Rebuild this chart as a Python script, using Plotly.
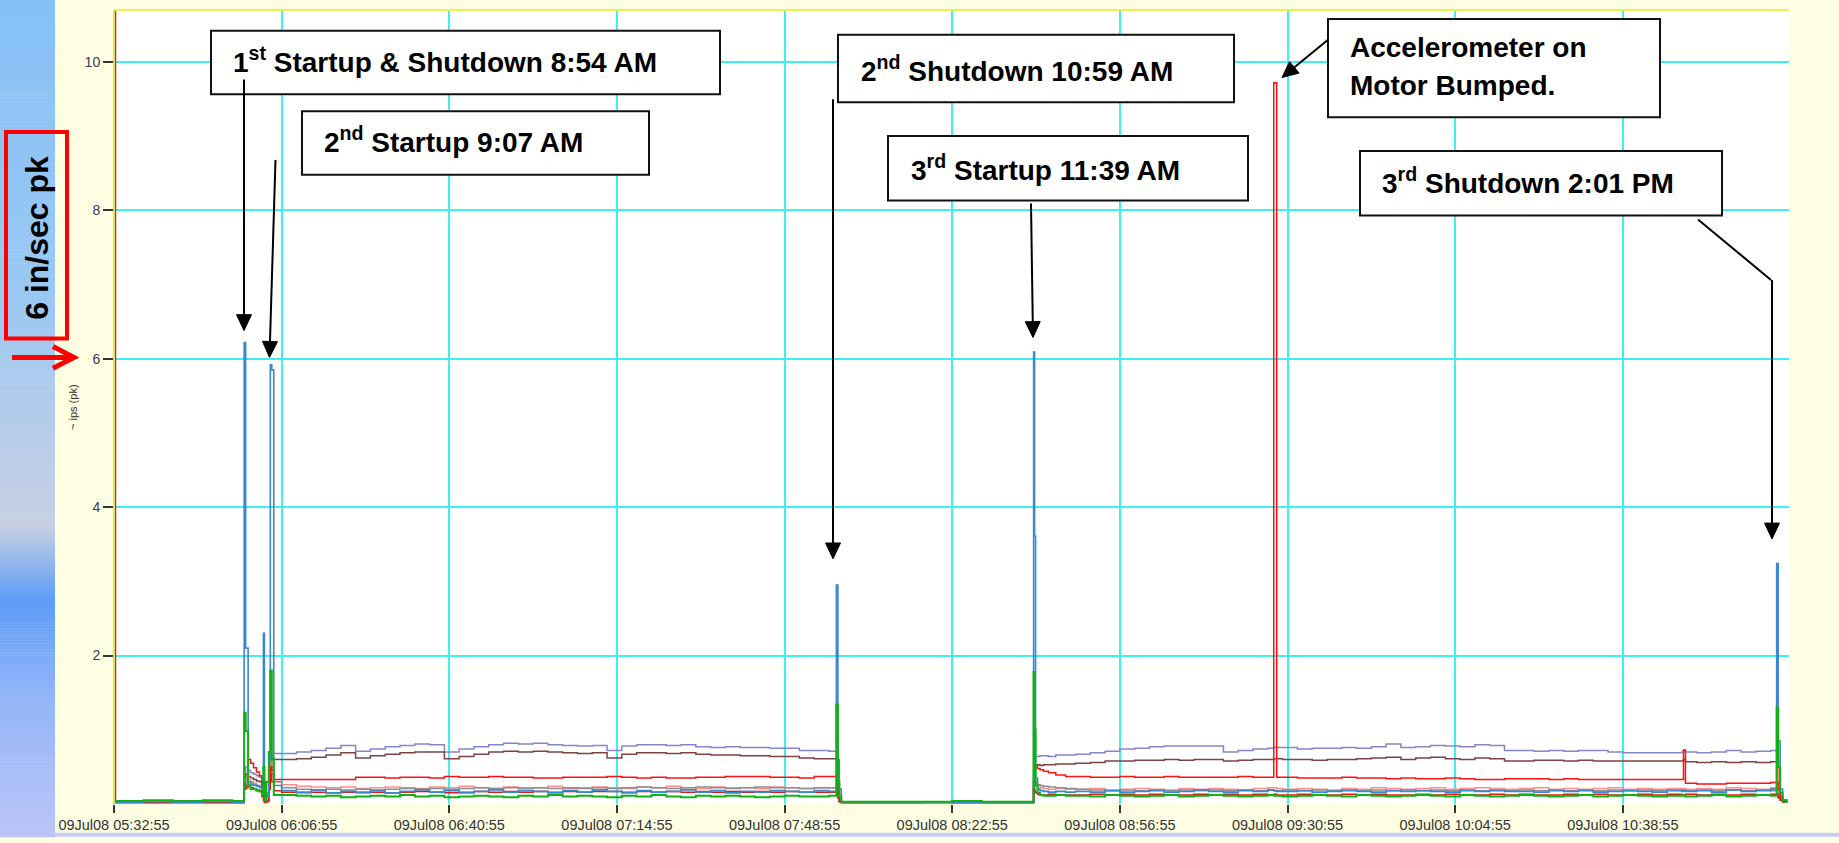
import math
import plotly.graph_objects as go
from datetime import datetime, timedelta

# ---------------------------------------------------------------- data
# sample times, minutes after 09Jul08 05:32:55
minutes = [
    0, 0.3, 6, 12, 18, 24, 26.2,
    26.4, 26.7, 27.2, 27.7, 28.3, 28.9, 29.5, 30.0, 30.3, 30.5, 30.9, 31.4, 31.7, 32.0, 32.4,
    34, 37, 40, 43, 46, 49, 52, 55, 58, 61, 64, 67, 70, 73, 76, 79, 82, 85, 88, 91,
    94, 97, 100, 103, 106, 109, 112, 115, 118, 121, 124, 127, 130, 133, 136, 139, 142, 145,
    146.5, 146.8, 147.1, 147.5,
    152, 158, 164, 170, 176, 182, 186.2,
    186.5, 186.7, 186.9, 187.3, 187.8, 188.5, 189.5, 191, 193,
    195, 198, 201, 204, 207, 210, 213, 216, 219, 222, 225, 228, 231, 234, 235.2, 235.8,
    237, 240, 243, 246, 249, 252, 255, 258, 261, 264, 267, 270, 273, 276, 279, 282,
    285, 288, 291, 294, 297, 300, 303, 306, 309, 312, 315, 318, 318.3, 318.7,
    321, 324, 327, 330, 333, 336,
    337.2, 337.5, 337.9, 338.4, 339.2,
]

purple = [
    0.03, 0.03, 0.03, 0.03, 0.03, 0.03, 0.03,
    0.30, 0.50, 0.45, 0.42, 0.40, 0.38, 0.36, 0.30, 0.20, 0.10, 0.15, 0.40, 0.70, 0.70, 0.68,
    0.68, 0.70, 0.72, 0.75, 0.79, 0.71, 0.74, 0.77, 0.79, 0.81, 0.80, 0.70, 0.74, 0.77, 0.80, 0.82, 0.81, 0.82, 0.80, 0.79,
    0.78, 0.79, 0.72, 0.78, 0.80, 0.80, 0.79, 0.80, 0.77, 0.76, 0.77, 0.76, 0.76, 0.75, 0.75, 0.72, 0.72, 0.71,
    0.70, 0.30, 0.06, 0.03,
    0.03, 0.03, 0.03, 0.03, 0.03, 0.03, 0.03,
    0.40, 0.64, 0.64, 0.64, 0.65, 0.65, 0.64, 0.66, 0.66,
    0.67, 0.69, 0.71, 0.74, 0.75, 0.77, 0.78, 0.78, 0.78, 0.78, 0.70, 0.72, 0.74, 0.75, 0.76, 0.76,
    0.76, 0.74, 0.75, 0.75, 0.76, 0.75, 0.77, 0.81, 0.76, 0.77, 0.79, 0.78, 0.77, 0.80, 0.79, 0.72,
    0.72, 0.71, 0.72, 0.71, 0.72, 0.72, 0.70, 0.69, 0.69, 0.69, 0.69, 0.70, 0.73, 0.70,
    0.69, 0.70, 0.72, 0.70, 0.71, 0.72,
    0.72, 0.40, 0.10, 0.04, 0.02,
]

brown = [
    0.02, 0.02, 0.02, 0.02, 0.02, 0.02, 0.02,
    0.25, 0.40, 0.37, 0.35, 0.33, 0.31, 0.30, 0.25, 0.15, 0.08, 0.12, 0.35, 0.65, 0.62, 0.60,
    0.60, 0.61, 0.63, 0.66, 0.69, 0.62, 0.65, 0.67, 0.69, 0.70, 0.70, 0.61, 0.64, 0.67, 0.70, 0.71, 0.70, 0.71, 0.70, 0.69,
    0.68, 0.69, 0.62, 0.67, 0.69, 0.69, 0.68, 0.69, 0.67, 0.66, 0.66, 0.65, 0.65, 0.64, 0.64, 0.62, 0.61, 0.61,
    0.60, 0.25, 0.05, 0.02,
    0.02, 0.02, 0.02, 0.02, 0.02, 0.02, 0.02,
    0.30, 0.52, 0.52, 0.53, 0.52, 0.53, 0.53, 0.54, 0.54,
    0.55, 0.56, 0.58, 0.58, 0.59, 0.59, 0.60, 0.59, 0.60, 0.60, 0.58, 0.59, 0.60, 0.60, 0.61, 0.61,
    0.60, 0.60, 0.59, 0.60, 0.60, 0.61, 0.62, 0.63, 0.60, 0.62, 0.63, 0.61, 0.60, 0.62, 0.61, 0.58,
    0.58, 0.59, 0.59, 0.58, 0.59, 0.58, 0.58, 0.58, 0.58, 0.58, 0.58, 0.58, 0.60, 0.57,
    0.56, 0.57, 0.56, 0.57, 0.56, 0.57,
    0.57, 0.30, 0.08, 0.03, 0.02,
]

red = [
    10.8, 0.03, 0.02, 0.03, 0.02, 0.02, 0.02,
    0.20, 0.25, 0.60, 0.55, 0.49, 0.43, 0.38, 0.20, 0.10, 0.04, 0.05, 0.30, 0.50, 0.45, 0.33,
    0.33, 0.33, 0.33, 0.33, 0.33, 0.36, 0.36, 0.35, 0.36, 0.36, 0.35, 0.37, 0.36, 0.36, 0.37, 0.36, 0.36, 0.35, 0.35, 0.36,
    0.36, 0.36, 0.37, 0.36, 0.35, 0.36, 0.35, 0.35, 0.36, 0.36, 0.37, 0.37, 0.37, 0.36, 0.36, 0.35, 0.37, 0.37,
    0.37, 0.15, 0.04, 0.02,
    0.02, 0.02, 0.03, 0.02, 0.02, 0.02, 0.02,
    0.20, 0.51, 0.50, 0.48, 0.46, 0.44, 0.42, 0.39, 0.37,
    0.37, 0.36, 0.36, 0.37, 0.36, 0.36, 0.37, 0.36, 0.36, 0.36, 0.36, 0.37, 0.36, 0.36, 9.72, 0.36,
    0.36, 0.35, 0.35, 0.35, 0.36, 0.35, 0.35, 0.34, 0.35, 0.34, 0.34, 0.35, 0.34, 0.33, 0.33, 0.34,
    0.34, 0.34, 0.33, 0.34, 0.33, 0.33, 0.33, 0.33, 0.33, 0.33, 0.33, 0.33, 0.72, 0.28,
    0.27, 0.27, 0.28, 0.28, 0.28, 0.29,
    0.29, 0.20, 0.10, 0.05, 0.03,
]

dark_red = [
    0.02, 0.02, 0.02, 0.02, 0.02, 0.02, 0.02,
    0.20, 0.22, 0.25, 0.22, 0.20, 0.19, 0.18, 0.10, 0.05, 0.02, 0.03, 0.20, 0.40, 0.30, 0.18,
    0.16, 0.15, 0.16, 0.15, 0.16, 0.15, 0.16, 0.15, 0.16, 0.17, 0.16, 0.15, 0.16, 0.17, 0.16, 0.17, 0.16, 0.17, 0.16, 0.17,
    0.16, 0.17, 0.17, 0.16, 0.17, 0.16, 0.17, 0.16, 0.17, 0.16, 0.17, 0.16, 0.17, 0.16, 0.17, 0.16, 0.16, 0.16,
    0.16, 0.08, 0.03, 0.02,
    0.02, 0.02, 0.02, 0.02, 0.02, 0.02, 0.02,
    0.20, 0.18, 0.15, 0.13, 0.12, 0.12, 0.13, 0.12, 0.12,
    0.12, 0.13, 0.12, 0.13, 0.12, 0.13, 0.12, 0.12, 0.13, 0.12, 0.13, 0.12, 0.13, 0.12, 0.13, 0.12,
    0.12, 0.13, 0.12, 0.12, 0.13, 0.12, 0.13, 0.12, 0.12, 0.13, 0.12, 0.13, 0.12, 0.12, 0.13, 0.12,
    0.13, 0.12, 0.12, 0.13, 0.12, 0.13, 0.12, 0.12, 0.13, 0.12, 0.13, 0.12, 0.12, 0.13,
    0.12, 0.13, 0.12, 0.13, 0.12, 0.13,
    0.13, 0.08, 0.05, 0.03, 0.02,
]

pink = [
    0.02, 0.02, 0.02, 0.02, 0.02, 0.02, 0.02,
    0.30, 0.30, 0.35, 0.30, 0.28, 0.25, 0.24, 0.20, 0.10, 0.05, 0.10, 0.50, 1.27, 0.50, 0.30,
    0.26, 0.24, 0.23, 0.22, 0.23, 0.21, 0.22, 0.23, 0.22, 0.21, 0.23, 0.22, 0.24, 0.22, 0.21, 0.23, 0.22, 0.22, 0.24, 0.21,
    0.22, 0.23, 0.22, 0.21, 0.23, 0.22, 0.24, 0.22, 0.21, 0.23, 0.22, 0.22, 0.21, 0.23, 0.22, 0.21, 0.22, 0.22,
    0.22, 0.10, 0.03, 0.02,
    0.02, 0.02, 0.02, 0.02, 0.02, 0.02, 0.02,
    0.30, 0.35, 0.30, 0.25, 0.22, 0.21, 0.20, 0.21, 0.20,
    0.20, 0.21, 0.19, 0.20, 0.21, 0.20, 0.19, 0.21, 0.20, 0.21, 0.20, 0.19, 0.21, 0.22, 0.22, 0.21,
    0.20, 0.21, 0.20, 0.19, 0.21, 0.20, 0.22, 0.21, 0.20, 0.21, 0.22, 0.20, 0.21, 0.22, 0.21, 0.20,
    0.21, 0.22, 0.20, 0.21, 0.20, 0.21, 0.22, 0.20, 0.21, 0.20, 0.21, 0.20, 0.21, 0.20,
    0.21, 0.20, 0.22, 0.21, 0.20, 0.22,
    1.10, 0.30, 0.10, 0.05, 0.02,
]

gray = [
    0.03, 0.03, 0.03, 0.03, 0.03, 0.03, 0.03,
    0.30, 0.35, 0.30, 0.28, 0.26, 0.25, 0.24, 0.20, 0.12, 0.06, 0.10, 0.30, 0.60, 0.40, 0.30,
    0.22, 0.20, 0.19, 0.20, 0.19, 0.20, 0.19, 0.20, 0.21, 0.20, 0.21, 0.20, 0.21, 0.22, 0.21, 0.22, 0.21, 0.22, 0.21, 0.22,
    0.21, 0.22, 0.21, 0.22, 0.23, 0.22, 0.21, 0.22, 0.23, 0.22, 0.21, 0.22, 0.23, 0.22, 0.22, 0.21, 0.22, 0.22,
    0.22, 0.10, 0.03, 0.02,
    0.03, 0.03, 0.03, 0.03, 0.03, 0.03, 0.03,
    0.30, 0.30, 0.28, 0.26, 0.25, 0.24, 0.23, 0.22, 0.21,
    0.20, 0.19, 0.18, 0.19, 0.18, 0.19, 0.18, 0.19, 0.18, 0.19, 0.18, 0.19, 0.18, 0.19, 0.18, 0.18,
    0.19, 0.18, 0.19, 0.18, 0.19, 0.18, 0.19, 0.18, 0.19, 0.18, 0.19, 0.18, 0.19, 0.18, 0.19, 0.18,
    0.19, 0.18, 0.19, 0.18, 0.19, 0.18, 0.19, 0.18, 0.19, 0.18, 0.19, 0.18, 0.19, 0.18,
    0.19, 0.18, 0.19, 0.18, 0.19, 0.18,
    0.18, 0.10, 0.05, 0.03, 0.02,
]

blue = [
    0.02, 0.02, 0.03, 0.02, 0.03, 0.02, 0.03,
    6.22, 2.10, 0.30, 0.26, 0.25, 0.24, 0.22, 0.20, 2.30, 0.15, 0.10, 0.60, 5.92, 5.85, 0.25,
    0.18, 0.16, 0.19, 0.15, 0.17, 0.16, 0.18, 0.15, 0.17, 0.19, 0.16, 0.18, 0.15, 0.17, 0.19, 0.16, 0.18, 0.17, 0.15, 0.18,
    0.16, 0.19, 0.17, 0.15, 0.18, 0.16, 0.17, 0.19, 0.16, 0.18, 0.15, 0.17, 0.16, 0.18, 0.17, 0.16, 0.18, 0.17,
    2.95, 0.60, 0.20, 0.03,
    0.02, 0.02, 0.02, 0.02, 0.02, 0.02, 0.02,
    6.09, 3.61, 0.35, 0.20, 0.18, 0.17, 0.16, 0.17, 0.16,
    0.17, 0.16, 0.18, 0.16, 0.17, 0.18, 0.16, 0.17, 0.19, 0.17, 0.16, 0.18, 0.17, 0.19, 0.18, 0.17,
    0.17, 0.18, 0.16, 0.17, 0.18, 0.17, 0.16, 0.18, 0.17, 0.18, 0.17, 0.16, 0.18, 0.17, 0.18, 0.17,
    0.17, 0.16, 0.18, 0.17, 0.18, 0.16, 0.17, 0.18, 0.17, 0.16, 0.18, 0.17, 0.18, 0.17,
    0.18, 0.16, 0.19, 0.17, 0.18, 0.20,
    3.24, 0.85, 0.20, 0.05, 0.02,
]

green = [
    0.04, 0.04, 0.05, 0.04, 0.05, 0.04, 0.04,
    1.23, 0.98, 0.25, 0.20, 0.20, 0.18, 0.17, 0.12, 0.50, 0.05, 0.30, 0.70, 1.80, 0.60, 0.12,
    0.12, 0.11, 0.10, 0.11, 0.09, 0.10, 0.11, 0.10, 0.12, 0.10, 0.11, 0.09, 0.10, 0.11, 0.10, 0.09, 0.11, 0.10, 0.12, 0.10,
    0.11, 0.10, 0.09, 0.11, 0.10, 0.12, 0.10, 0.09, 0.11, 0.10, 0.11, 0.10, 0.09, 0.10, 0.11, 0.10, 0.10, 0.11,
    1.34, 0.30, 0.10, 0.03,
    0.03, 0.03, 0.03, 0.04, 0.03, 0.03, 0.03,
    1.78, 1.00, 0.25, 0.15, 0.12, 0.11, 0.11, 0.12, 0.11,
    0.11, 0.10, 0.12, 0.11, 0.10, 0.11, 0.12, 0.10, 0.11, 0.12, 0.11, 0.10, 0.11, 0.12, 0.11, 0.11,
    0.10, 0.11, 0.12, 0.11, 0.10, 0.12, 0.11, 0.10, 0.11, 0.12, 0.11, 0.10, 0.12, 0.11, 0.10, 0.11,
    0.12, 0.11, 0.10, 0.11, 0.12, 0.10, 0.11, 0.12, 0.11, 0.10, 0.11, 0.12, 0.11, 0.10,
    0.11, 0.12, 0.10, 0.11, 0.12, 0.11,
    1.30, 0.50, 0.15, 0.05, 0.02,
]

tick_minutes = [0, 34, 68, 102, 136, 170, 204, 238, 272, 306]
y_ticks = [2, 4, 6, 8, 10]

# ---------------------------------------------------------------- figure
START = datetime(2008, 7, 9, 5, 32, 55)
times = [START + timedelta(minutes=m) for m in minutes]

series = [
    (purple, "#8585C8", 1.5),
    (brown, "#7E4242", 1.5),
    (pink, "#FF8C8C", 1.5),
    (gray, "#8E8E8E", 1.5),
    (dark_red, "#E01818", 1.5),
    (red, "#FF1010", 1.5),
    (blue, "#3C88CC", 1.6),
    (green, "#12B012", 2.0),
]

fig = go.Figure()
for vals, color, width in series:
    assert len(vals) == len(minutes)
    fig.add_trace(go.Scatter(
        x=times, y=vals, mode="lines",
        line=dict(color=color, width=width, shape="hv"),
        hoverinfo="skip", showlegend=False,
    ))

W, H = 1839, 843
L, R, T, B = 114, 1789, 10, 810


def fx(p):
    return (p - L) / (R - L)


def fy(p):
    return (B - p) / (B - T)


def hexmix(c1, c2, f):
    a = [int(c1[i:i + 2], 16) for i in (1, 3, 5)]
    b = [int(c2[i:i + 2], 16) for i in (1, 3, 5)]
    return "#" + "".join(f"{round(x + (y - x) * f):02X}" for x, y in zip(a, b))


shapes = []

# left side band with vertical shading
stops = [(0, "#86C0F7"), (300, "#9AC8F3"), (450, "#B9CDEA"), (530, "#C6D0E2"),
         (605, "#5E9CF7"), (700, "#92B5F8"), (843, "#BCC4F8")]
step = 3
for y0 in range(0, H, step):
    yc = y0 + step / 2
    for (ya, ca), (yb, cb) in zip(stops[:-1], stops[1:]):
        if ya <= yc <= yb:
            col = hexmix(ca, cb, (yc - ya) / (yb - ya))
            break
    shapes.append(dict(type="rect", xref="paper", yref="paper",
                       x0=fx(0), x1=fx(55), y0=fy(y0 + step + 0.5), y1=fy(y0),
                       fillcolor=col, line=dict(width=0), layer="below"))
# bottom band
shapes.append(dict(type="rect", xref="paper", yref="paper",
                   x0=fx(55), x1=fx(W), y0=fy(H), y1=fy(839),
                   fillcolor="#C6CAF6", line=dict(width=0), layer="below"))

# top and left frame lines of the plot
shapes.append(dict(type="line", xref="paper", yref="paper", x0=0, x1=1, y0=1, y1=1,
                   line=dict(color="#EEEE55", width=2)))
shapes.append(dict(type="line", xref="paper", yref="paper", x0=0, x1=0, y0=0, y1=1,
                   line=dict(color="#E2E24A", width=2)))

# red marker box and arrow on the left
shapes.append(dict(type="rect", xref="paper", yref="paper",
                   x0=fx(6), x1=fx(67), y0=fy(341), y1=fy(133),
                   line=dict(color="#FF0000", width=4), fillcolor="rgba(0,0,0,0)"))
shapes.append(dict(type="line", xref="paper", yref="paper",
                   x0=fx(12), x1=fx(71), y0=fy(360), y1=fy(360),
                   line=dict(color="#FF0000", width=5)))
shapes.append(dict(type="path", xref="paper", yref="paper",
                   path=f"M {fx(53)},{fy(349)} L {fx(74)},{fy(360)} L {fx(53)},{fy(371)}",
                   line=dict(color="#FF0000", width=5)))

# callout boxes (left, top, right, bottom in pixels)
boxes = [
    (211, 31, 720, 95),
    (302, 112, 649, 176),
    (838, 35, 1234, 103),
    (888, 137, 1248, 202),
    (1328, 19, 1660, 118),
    (1360, 152, 1722, 217),
]
for x0, y0, x1, y1 in boxes:
    shapes.append(dict(type="rect", xref="paper", yref="paper",
                       x0=fx(x0), x1=fx(x1), y0=fy(y1), y1=fy(y0),
                       fillcolor="white", line=dict(color="#111111", width=2)))

# bent leader of the last callout
shapes.append(dict(type="line", xref="paper", yref="paper",
                   x0=fx(1698), y0=fy(221), x1=fx(1771), y1=fy(282),
                   line=dict(color="black", width=2)))


def arrow(tip_x, tip_y, tail_x, tail_y, head_len=16, head_w=15):
    """Leader line with a filled triangular head, in pixel coordinates."""
    dx, dy = tip_x - tail_x, tip_y - tail_y
    d = math.hypot(dx, dy)
    ux, uy = dx / d, dy / d
    bx, by = tip_x - ux * head_len, tip_y - uy * head_len
    nx, ny = -uy * head_w / 2, ux * head_w / 2
    shapes.append(dict(type="line", xref="paper", yref="paper",
                       x0=fx(tail_x), y0=fy(tail_y), x1=fx(bx + ux), y1=fy(by + uy),
                       line=dict(color="black", width=2)))
    shapes.append(dict(type="path", xref="paper", yref="paper",
                       path=(f"M {fx(tip_x)},{fy(tip_y)} L {fx(bx + nx)},{fy(by + ny)} "
                             f"L {fx(bx - nx)},{fy(by - ny)} Z"),
                       fillcolor="black", line=dict(color="black", width=1)))


arrow(244, 333, 244, 80)
arrow(269.5, 360, 275.5, 161)
arrow(833, 563, 833, 100)
arrow(1033, 340, 1031, 205)
arrow(1282, 78, 1328, 40)
arrow(1772, 543, 1772, 282)

CALLOUT_FONT = "Liberation Sans, Arial"
annotations = []


def callout(text, xp, yp, size=28):
    annotations.append(dict(text=text, xref="paper", yref="paper", x=fx(xp), y=fy(yp),
                            xanchor="left", yanchor="middle", showarrow=False,
                            font=dict(family=CALLOUT_FONT, size=size, color="black",
                                      weight="bold")))


callout("1<sup>st</sup> Startup &amp; Shutdown 8:54 AM", 231, 60)
callout("2<sup>nd</sup> Startup 9:07 AM", 322, 141)
callout("2<sup>nd</sup> Shutdown 10:59 AM", 859, 69)
callout("3<sup>rd</sup> Startup 11:39 AM", 909, 169)
callout("Accelerometer on", 1348, 48)
callout("Motor Bumped.", 1348, 86)
callout("3<sup>rd</sup> Shutdown 2:01 PM", 1380, 182)

# rotated texts on the left
annotations.append(dict(text="6 in/sec pk", xref="paper", yref="paper", x=fx(37.5), y=fy(240),
                        textangle=-90, showarrow=False, xanchor="center", yanchor="middle",
                        font=dict(family="Liberation Sans, Arial", size=32, color="black",
                                  weight="bold")))
annotations.append(dict(text="~ ips (pk)", xref="paper", yref="paper", x=fx(73), y=fy(410),
                        textangle=-90, showarrow=False, xanchor="center", yanchor="middle",
                        font=dict(family="Liberation Sans, Arial", size=11, color="#333333")))

fig.update_layout(
    width=W, height=H,
    margin=dict(l=L, r=W - R, t=T, b=H - B, pad=0),
    paper_bgcolor="#FEFEE2",
    plot_bgcolor="white",
    shapes=shapes,
    annotations=annotations,
    xaxis=dict(
        type="date",
        range=[START, START + timedelta(minutes=339.7)],
        tickvals=[START + timedelta(minutes=m) for m in tick_minutes],
        tickformat="%d%b%y %H:%M:%S",
        ticks="outside", ticklen=8, tickwidth=1.5, tickcolor="#333333",
        showgrid=True, gridcolor="#3FF0F0", gridwidth=1.5,
        zeroline=False, showline=False,
        tickfont=dict(family="Liberation Sans, Arial", size=14.5, color="#333333"),
    ),
    yaxis=dict(
        range=[0, 10.7],
        tickvals=y_ticks,
        ticks="outside", ticklen=10, tickwidth=1.5, tickcolor="#333333",
        showgrid=True, gridcolor="#3FF0F0", gridwidth=1.5,
        zeroline=False, showline=False,
        tickfont=dict(family="Liberation Sans, Arial", size=14, color="#3A3A55"),
    ),
)

fig.write_html("out.html")
